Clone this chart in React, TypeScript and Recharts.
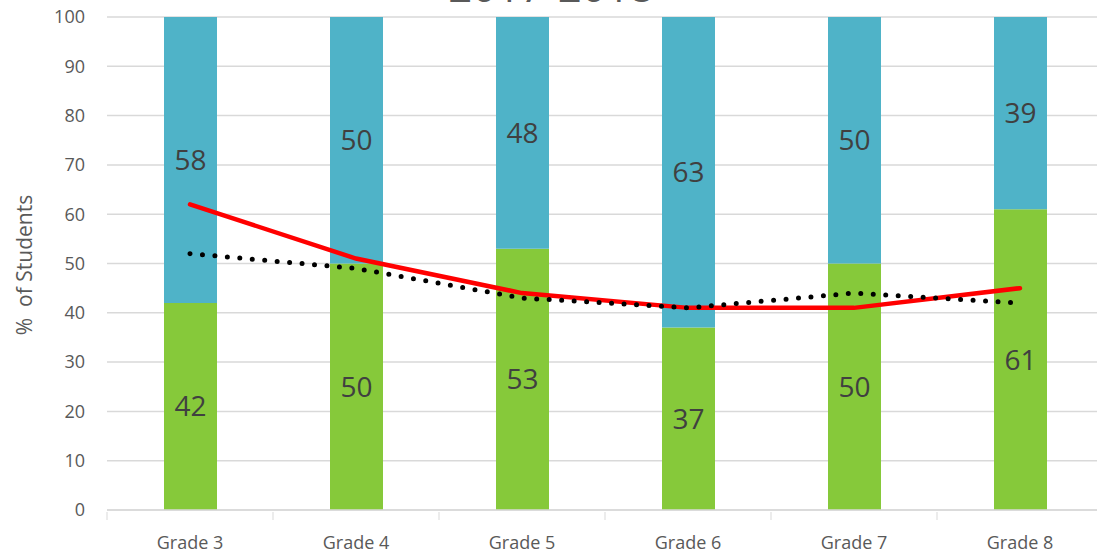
import { FC } from "react";
import {
  ComposedChart,
  Bar,
  Line,
  XAxis,
  YAxis,
  CartesianGrid,
  LabelList,
} from "recharts";

// Grades and percentages
const grades = ["Grade 3", "Grade 4", "Grade 5", "Grade 6", "Grade 7", "Grade 8"];
const proficient = [42, 50, 53, 37, 50, 61];
const notProficient = [58, 50, 48, 63, 50, 39];
const redLine = [62, 51, 44, 41, 41, 45];
const dottedLine = [52, 49, 43, 41, 44, 42];
const yTicks = [0, 10, 20, 30, 40, 50, 60, 70, 80, 90, 100];

const data = grades.map((g, i) => ({
  grade: g,
  green: proficient[i],
  blue: notProficient[i],
  red: redLine[i],
  dotted: dottedLine[i],
}));

const FONT = "'Open Sans', sans-serif";
const CHART_W = 1110;
const LEFT = 107;
const RIGHT = 7;
const BAND = (CHART_W - LEFT - RIGHT) / grades.length;

// tick mark at the band edges, label under the centre
const GradeTick = (props: any) => {
  const { x, y, payload, index } = props;
  const top = y - 6;
  return (
    <g>
      <line x1={x - BAND / 2} y1={top} x2={x - BAND / 2} y2={top + 8} stroke="#d9d9d9" />
      {index === grades.length - 1 && (
        <line x1={x + BAND / 2} y1={top} x2={x + BAND / 2} y2={top + 8} stroke="#d9d9d9" />
      )}
      <text x={x} y={y + 31} textAnchor="middle" fill="#595959" fontSize={18} fontFamily={FONT}>
        {payload.value}
      </text>
    </g>
  );
};

const App: FC = () => {
  return (
    <div
      style={{
        position: "absolute",
        left: 0,
        top: 0,
        width: 1097,
        height: 555,
        overflow: "hidden",
        background: "#fff",
        fontFamily: FONT,
      }}
    >
      <div
        style={{
          position: "absolute",
          left: 0,
          width: 1102,
          top: -43,
          textAlign: "center",
          fontSize: 42,
          color: "#595959",
          lineHeight: "58px",
        }}
      >
        2017-2018
      </div>
      <div
        style={{
          position: "absolute",
          left: 24,
          top: 265,
          transform: "translate(-50%, -50%) rotate(-90deg)",
          whiteSpace: "pre",
          fontSize: 21,
          color: "#595959",
        }}
      >
        {"%  of Students"}
      </div>
      <ComposedChart
        width={CHART_W}
        height={555}
        data={data}
        margin={{ top: 17, right: RIGHT, bottom: 0, left: 0 }}
        barSize={53}
        style={{ position: "absolute", left: 0, top: 0 }}
      >
        <CartesianGrid vertical={false} stroke="#d9d9d9" strokeWidth={1.5} />
        <XAxis
          dataKey="grade"
          height={45}
          axisLine={{ stroke: "#d9d9d9", strokeWidth: 1.5 }}
          tickLine={false}
          tick={<GradeTick />}
          interval={0}
        />
        <YAxis
          domain={[0, 100]}
          allowDataOverflow
          ticks={yTicks}
          width={LEFT}
          axisLine={false}
          tickLine={false}
          tickSize={20}
          tick={{ fill: "#595959", fontSize: 18, fontFamily: FONT }}
        />
        <Bar dataKey="green" stackId="a" fill="#86C93A" isAnimationActive={false}>
          <LabelList dataKey="green" position="center" fill="#404040" fontSize={28} fontFamily={FONT} />
        </Bar>
        <Bar dataKey="blue" stackId="a" fill="#4FB3C8" isAnimationActive={false}>
          <LabelList dataKey="blue" position="center" fill="#404040" fontSize={28} fontFamily={FONT} />
        </Bar>
        <Line
          type="linear"
          dataKey="red"
          stroke="#FF0000"
          strokeWidth={4.5}
          strokeLinecap="round"
          dot={false}
          activeDot={false}
          isAnimationActive={false}
        />
        <Line
          type="linear"
          dataKey="dotted"
          stroke="#000"
          strokeWidth={5}
          strokeDasharray="0 12.5"
          strokeLinecap="round"
          dot={false}
          activeDot={false}
          isAnimationActive={false}
        />
      </ComposedChart>
    </div>
  );
};

export default App;
